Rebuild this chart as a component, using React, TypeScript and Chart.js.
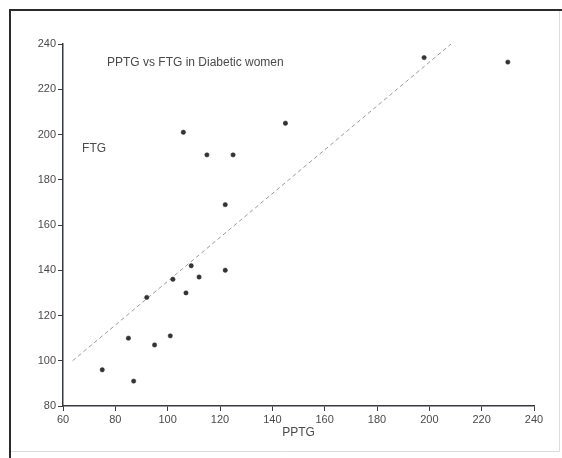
import React, { useEffect, useRef } from "react";
import { Chart, registerables } from "chart.js";

Chart.register(...registerables);

// PPTG (x) values of the diabetic women
const pptg = [75, 85, 87, 92, 95, 101, 102, 107, 109, 112, 122, 106, 115, 125, 122, 145, 198, 230];
// FTG (y) values
const ftg = [96, 110, 91, 128, 107, 111, 136, 130, 142, 137, 140, 201, 191, 191, 169, 205, 234, 232];

// regression (trend) line end points
const trendX = [63.7, 208.3];
const trendY = [100, 240];

const xTicks = [60, 80, 100, 120, 140, 160, 180, 200, 220, 240];
const yTicks = [80, 100, 120, 140, 160, 180, 200, 220, 240];

const chartTitle = "PPTG vs FTG in Diabetic women";
const xTitle = "PPTG";
const yTitle = "FTG";
const titleAt = { x: 76.8, y: 231.6 };
const yTitleAt = { x: 67.3, y: 193.6 };

const W = 562;
const H = 458;

export default function App() {
  const ref = useRef<HTMLCanvasElement | null>(null);

  useEffect(() => {
    const canvas = ref.current;
    if (!canvas) return;

    const framePlugin = {
      id: "frame",
      beforeDraw(chart: any) {
        const ctx = chart.ctx;
        ctx.save();
        ctx.fillStyle = "#ffffff";
        ctx.fillRect(0, 0, W, H);
        // faint right / bottom borders
        ctx.strokeStyle = "#dcdcdc";
        ctx.lineWidth = 1;
        ctx.beginPath();
        ctx.moveTo(559.5, 10);
        ctx.lineTo(559.5, 451.5);
        ctx.lineTo(10, 451.5);
        ctx.stroke();
        // dark left / top borders
        ctx.strokeStyle = "#2a2a2a";
        ctx.lineWidth = 2;
        ctx.beginPath();
        ctx.moveTo(10, H);
        ctx.lineTo(10, 10);
        ctx.lineTo(W, 10);
        ctx.stroke();
        ctx.restore();
      },
      afterDatasetsDraw(chart: any) {
        const ctx = chart.ctx;
        const xs = chart.scales.x;
        const ys = chart.scales.y;
        ctx.save();
        ctx.fillStyle = "#4a4a4a";
        ctx.font = "12px 'Liberation Sans', Arial, sans-serif";
        ctx.textBaseline = "middle";
        ctx.textAlign = "left";
        ctx.fillText(chartTitle, xs.getPixelForValue(titleAt.x), ys.getPixelForValue(titleAt.y));
        ctx.fillText(yTitle, xs.getPixelForValue(yTitleAt.x), ys.getPixelForValue(yTitleAt.y));
        ctx.restore();
      },
    };

    const tickFont = { size: 11, family: "'Liberation Sans Narrow', 'Arial Narrow', 'Liberation Sans', sans-serif" };

    const chart = new Chart(canvas, {
      type: "scatter",
      data: {
        datasets: [
          {
            label: "FTG",
            data: pptg.map((x, i) => ({ x, y: ftg[i] })),
            backgroundColor: "#333333",
            borderColor: "#333333",
            pointRadius: 2.2,
            pointBorderWidth: 0.5,
            pointHoverRadius: 2.2,
          },
          {
            label: "trend",
            type: "line",
            data: trendX.map((x, i) => ({ x, y: trendY[i] })),
            borderColor: "#9a9a9a",
            borderWidth: 1,
            borderDash: [4, 3],
            pointRadius: 0,
            fill: false,
          } as any,
        ],
      },
      options: {
        responsive: false,
        animation: false,
        layout: { padding: { left: 0, right: 28, top: 44, bottom: 18 } },
        plugins: {
          legend: { display: false },
          tooltip: { enabled: false },
          title: { display: false },
        },
        scales: {
          x: {
            type: "linear",
            min: 60,
            max: 240,
            afterBuildTicks: (s: any) => {
              s.ticks = xTicks.map((v) => ({ value: v }));
            },
            afterFit: (s: any) => {
              s.height = 34;
            },
            ticks: { color: "#4a4a4a", font: tickFont, padding: 2, maxRotation: 0 },
            grid: { display: true, drawOnChartArea: false, tickLength: 5, color: "#333a45", lineWidth: 1 },
            border: { display: true, color: "#333a45", width: 1.5 },
            title: {
              display: true,
              text: xTitle,
              color: "#4a4a4a",
              font: { size: 12, family: "'Liberation Sans', Arial, sans-serif" },
              padding: { top: 0, bottom: 0 },
            },
          },
          y: {
            type: "linear",
            min: 80,
            max: 240,
            afterBuildTicks: (s: any) => {
              s.ticks = yTicks.map((v) => ({ value: v }));
            },
            afterFit: (s: any) => {
              s.width = 63;
            },
            ticks: { color: "#4a4a4a", font: tickFont, padding: 2 },
            grid: { display: true, drawOnChartArea: false, tickLength: 5, color: "#333a45", lineWidth: 1 },
            border: { display: true, color: "#333a45", width: 1.5 },
          },
        },
      },
      plugins: [framePlugin],
    } as any);

    return () => chart.destroy();
  }, []);

  return (
    <div style={{ position: "fixed", left: 0, top: 0, width: W, height: H, background: "#fff" }}>
      <canvas ref={ref} width={W} height={H} style={{ width: W, height: H, display: "block" }} />
    </div>
  );
}
